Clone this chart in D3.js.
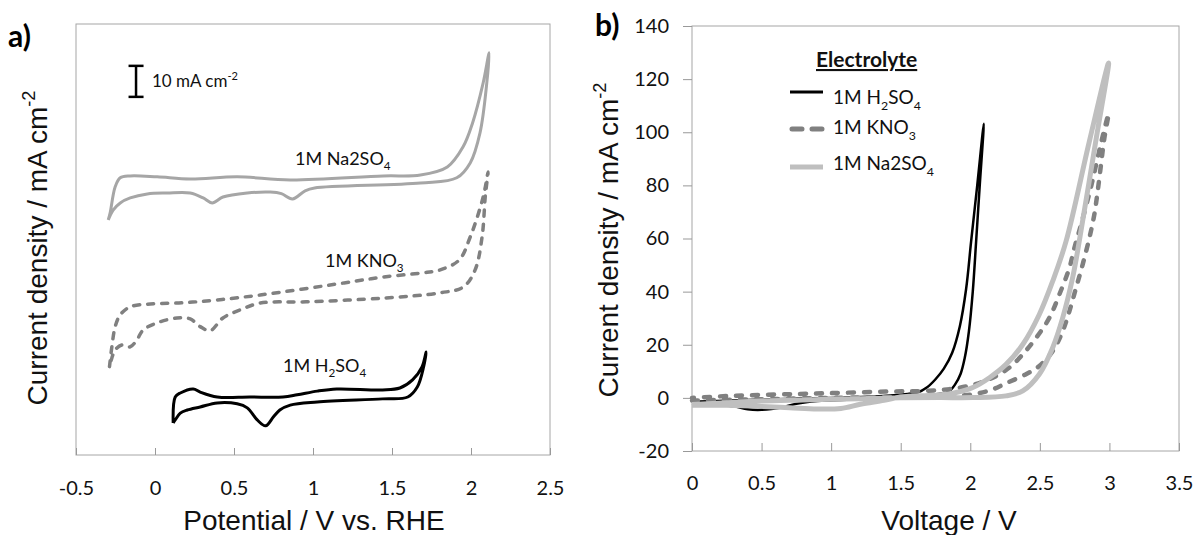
<!DOCTYPE html>
<html>
<head>
<meta charset="utf-8">
<script src="https://cdn.jsdelivr.net/npm/d3@7"></script>
<style>
  body { margin: 0; background: #fff; }
  svg { display: block; }
</style>
</head>
<body>
<svg id="fig" width="1197" height="535"></svg>
<script>
// ---- panel a: stacked CVs (current offset per curve, mA cm-2 on an arbitrary zero)
const aTicks = [-0.5, 0, 0.5, 1, 1.5, 2, 2.5];
const aTickLabels = ["-0.5", "0", "0.5", "1", "1.5", "2", "2.5"];

const aNaV = [-0.296,-0.284,-0.252,-0.22,-0.157,0.014,0.223,0.52,0.856,1.444,1.68,1.85,1.95,2.01,2.077,2.115,
              2.10,2.057,1.995,1.91,1.68,1.01,0.95,0.87,0.8,0.73,0.584,0.43,0.362,0.305,0.223,0.077,-0.049,-0.157,-0.22,-0.265,-0.296];
const aNaJ = [75.8,78.1,86.5,89.4,90.0,89.7,89.0,89.7,88.7,90.0,90.3,92.9,99.4,107.1,120.0,129.7,
              120.0,103.9,94.2,89.4,87.7,86.1,85.2,82.6,84.3,84.8,84.5,83.2,81.3,82.9,84.5,84.5,84.2,82.9,81.3,79.0,75.8];

const aKV = [-0.288,-0.273,-0.252,-0.22,-0.157,-0.03,0.178,0.392,0.666,1.197,1.444,1.685,1.805,1.925,1.995,2.077,2.108,
             2.10,2.09,2.07,2.026,1.952,1.805,1.444,0.957,0.666,0.539,0.43,0.349,0.286,0.223,0.139,0.012,-0.075,-0.115,-0.157,-0.21,-0.252,-0.273,-0.288];
const aKJ = [28.5,34.9,41.4,45.2,47.8,48.7,49.1,50.0,51.6,55.5,57.4,58.7,59.7,62.9,70.3,83.2,91.3,
             87.7,83.2,70.3,59.7,54.2,52.3,50.6,49.4,49.0,46.8,44.2,40.1,41.4,43.9,44.2,42.6,40.3,37.1,34.9,35.5,33.9,31.3,28.5];

const aHV = [0.115,0.128,0.16,0.242,0.286,0.394,0.60,0.81,0.90,1.027,1.15,1.44,1.55,1.63,1.69,1.716,
             1.70,1.66,1.60,1.44,1.027,0.856,0.79,0.75,0.70,0.647,0.584,0.52,0.394,0.286,0.204,0.16,0.128,0.115];
const aHJ = [10.3,18.7,20.0,21.3,20.3,18.7,18.7,18.7,19.4,20.6,21.3,21.0,21.6,24.2,28.4,33.2,
             28.4,21.9,18.7,18.1,17.1,16.1,14.5,12.3,9.4,11.3,15.2,16.5,16.8,15.5,14.5,13.5,11.3,10.3];

const scaleBarV = -0.12;
const scaleBarJ = [115.5, 125.5];

// ---- panel b: polarisation curves
const bXTicks = [0, 0.5, 1, 1.5, 2, 2.5, 3, 3.5];
const bXTickLabels = ["0", "0.5", "1", "1.5", "2", "2.5", "3", "3.5"];
const bYTicks = [-20, 0, 20, 40, 60, 80, 100, 120, 140];

const bHV = [0,0.3,0.6,1.0,1.4,1.55,1.62,1.69,1.75,1.81,1.87,1.925,1.97,2.006,2.05,2.097,
             2.068,2.042,2.018,1.99,1.96,1.93,1.89,1.85,1.8,1.5,1.2,0.9,0.75,0.65,0.5,0.4,0.3,0.15,0];
const bHJ = [-1.5,-1.0,-0.5,0,0.8,1.5,2.0,4,7,11,17,27,41,58.9,80,103.2,
             80,58.9,40.1,25,15,9,5,2.6,1.7,0.5,-0.5,-1.2,-2.2,-3.5,-4.5,-4.3,-3.2,-2.5,-2.0];

const bKV = [0,0.5,1.0,1.5,1.8,2.0,2.15,2.257,2.40,2.496,2.592,2.664,2.712,2.76,2.807,2.855,2.891,2.915,2.939,2.963,2.994,
             2.94,2.87,2.8,2.748,2.712,2.64,2.568,2.473,2.377,2.281,2.162,2.018,1.851,1.66,1.42,1.0,0.7,0.3,0];
const bKJ = [-1.0,-0.5,0,0.4,0.7,1.2,3.0,5.5,8.9,12.0,17.6,25.1,32.6,41.4,50.1,60.0,68.9,77.6,87.6,97.6,107,
             96,80,66,56.4,48.9,38.9,30.1,22.6,16.4,11.4,7.6,4.9,3.3,2.6,2.4,1.8,1.4,0.8,0];

const bNaV = [0,0.25,0.5,0.8,1.2,1.5,1.779,2.018,2.257,2.377,2.496,2.592,2.664,2.735,2.783,2.901,2.994,
              2.855,2.688,2.592,2.496,2.377,2.257,2.138,2.018,1.899,1.779,1.5,1.38,1.21,1.07,0.9,0.7,0.5,0.25,0];
const bNaJ = [-2.5,-1.8,-1.2,-0.8,-0.3,0,0.1,0.1,0.75,2.6,8.9,18.9,30.1,45.1,58.9,96.4,126.1,
              96.4,58.9,43.9,31.4,20.1,12.6,7.6,3.9,2.0,1.1,0.3,-0.9,-2.4,-4.0,-4.2,-3.7,-3.2,-2.8,-2.8];

// ------------------------------------------------------------
const svg = d3.select("#fig");
svg.append("rect").attr("width", 1197).attr("height", 535).attr("fill", "#fff");

const titleFont = "'Liberation Sans', Arial, sans-serif";
const tickFont = "Lato, 'Open Sans', sans-serif";
const boxColor = "#a6a6a6";

const zip = (xs, ys) => xs.map((x, i) => [x, ys[i]]);

// text with sub / superscript pieces: parts = [[text, kind], ...]
function rich(g, x, y, size, family, parts) {
    const t = g.append("text").attr("x", x).attr("y", y)
        .style("font-size", size + "px").style("font-family", family).attr("fill", "#111");
    let shift = 0;
    parts.forEach(([s, k]) => {
        const target = k === "sub" ? size * 0.3 : k === "sup" ? -size * 0.42 : 0;
        t.append("tspan").attr("dy", target - shift)
            .style("font-size", (k ? size * 0.65 : size) + "px").text(s);
        shift = target;
    });
    return t;
}

// ================= panel a =================
const xA = d3.scaleLinear().domain([-0.5, 2.5]).range([76, 550]);
const yA = d3.scaleLinear().domain([0, 139]).range([455, 24]);
const ga = svg.append("g");

ga.append("rect").attr("x", 76).attr("y", 24).attr("width", 474).attr("height", 431)
  .attr("fill", "none").attr("stroke", boxColor).attr("stroke-width", 1);

const axA = ga.append("g").attr("transform", "translate(0,455)")
  .call(d3.axisBottom(xA).tickValues(aTicks).tickFormat((d, i) => aTickLabels[i]).tickSize(-7).tickPadding(26));
axA.select(".domain").remove();
axA.selectAll("line").attr("stroke", "#999");
axA.selectAll("text").style("font-family", tickFont).style("font-size", "20px").attr("fill", "#111");

const lineA = d3.line().x(d => xA(d[0])).y(d => yA(d[1])).curve(d3.curveCatmullRom.alpha(0.5));

ga.append("path").attr("d", lineA(zip(aNaV, aNaJ)))
  .attr("fill", "none").attr("stroke", "#a6a6a6").attr("stroke-width", 3).attr("stroke-linejoin", "round");
ga.append("path").attr("d", lineA(zip(aKV, aKJ)))
  .attr("fill", "none").attr("stroke", "#808080").attr("stroke-width", 3.5)
  .attr("stroke-dasharray", "6,8").attr("stroke-linecap", "round");
ga.append("path").attr("d", lineA(zip(aHV, aHJ)))
  .attr("fill", "none").attr("stroke", "#000").attr("stroke-width", 3).attr("stroke-linejoin", "round");

// scale bar
const sb = ga.append("g").attr("stroke", "#000").attr("stroke-width", 2.5);
sb.append("line").attr("x1", xA(scaleBarV)).attr("x2", xA(scaleBarV)).attr("y1", yA(scaleBarJ[0])).attr("y2", yA(scaleBarJ[1]));
[0, 1].forEach(i => sb.append("line").attr("x1", xA(scaleBarV) - 7.5).attr("x2", xA(scaleBarV) + 7.5)
  .attr("y1", yA(scaleBarJ[i])).attr("y2", yA(scaleBarJ[i])));
rich(ga, 152, 87, 17, tickFont, [["10 mA cm"], ["-2", "sup"]]);

rich(ga, 295, 165, 18, tickFont, [["1M Na2SO"], ["4", "sub"]]);
rich(ga, 325, 267, 18, tickFont, [["1M KNO"], ["3", "sub"]]);
rich(ga, 283, 372, 18, tickFont, [["1M H"], ["2", "sub"], ["SO"], ["4", "sub"]]);

rich(ga, 314, 530, 28, titleFont, [["Potential / V vs. RHE"]]).attr("text-anchor", "middle");
rich(ga, 0, 0, 28, titleFont, [["Current density / mA cm"], ["-2", "sup"]])
  .attr("text-anchor", "middle").attr("transform", "translate(47,248) rotate(-90)");

ga.append("text").attr("x", 8).attr("y", 47).text("a)")
  .style("font-family", tickFont).style("font-weight", "bold").style("font-size", "30px");

// ================= panel b =================
const xB = d3.scaleLinear().domain([0, 3.5]).range([692, 1179]);
const yB = d3.scaleLinear().domain([-20, 140]).range([451, 26]);
const gb = svg.append("g");

gb.append("rect").attr("x", 692).attr("y", 26).attr("width", 487).attr("height", 425)
  .attr("fill", "none").attr("stroke", boxColor).attr("stroke-width", 1);

const axBx = gb.append("g").attr("transform", "translate(0,451)")
  .call(d3.axisBottom(xB).tickValues(bXTicks).tickFormat((d, i) => bXTickLabels[i]).tickSize(-8).tickPadding(25));
const axBy = gb.append("g").attr("transform", "translate(692,0)")
  .call(d3.axisLeft(yB).tickValues(bYTicks).tickFormat(d => String(d).replace("\u2212", "-")).tickSize(9).tickPadding(14));
[axBx, axBy].forEach(ax => {
    ax.select(".domain").remove();
    ax.selectAll("line").attr("stroke", "#999");
    ax.selectAll("text").style("font-family", tickFont).style("font-size", "20px").attr("fill", "#111");
});

const lineB = d3.line().x(d => xB(d[0])).y(d => yB(d[1])).curve(d3.curveCatmullRom.alpha(0.5));

gb.append("path").attr("d", lineB(zip(bHV, bHJ)))
  .attr("fill", "none").attr("stroke", "#000").attr("stroke-width", 2.5).attr("stroke-linejoin", "round");
gb.append("path").attr("d", lineB(zip(bKV, bKJ)))
  .attr("fill", "none").attr("stroke", "#808080").attr("stroke-width", 4.5)
  .attr("stroke-dasharray", "6,10").attr("stroke-linecap", "round");
gb.append("path").attr("d", lineB(zip(bNaV, bNaJ)))
  .attr("fill", "none").attr("stroke", "#bfbfbf").attr("stroke-width", 5).attr("stroke-linejoin", "round");

// legend
const lg = gb.append("g");
lg.append("text").attr("x", 816).attr("y", 67).text("Electrolyte")
  .style("font-family", tickFont).style("font-weight", "bold").style("font-size", "21px")
  .style("text-decoration", "underline").attr("fill", "#111");
const legY = [92, 129, 167];
const legText = [104, 134, 170];
const legStyles = [
    { stroke: "#000", w: 3, dash: null, cap: "butt" },
    { stroke: "#808080", w: 5, dash: "10,10", cap: "round" },
    { stroke: "#bfbfbf", w: 5, dash: null, cap: "butt" }
];
legStyles.forEach((s, i) => {
    const l = lg.append("line").attr("x1", s.cap === "round" ? 792 : 790).attr("x2", 823)
      .attr("y1", legY[i]).attr("y2", legY[i])
      .attr("stroke", s.stroke).attr("stroke-width", s.w).attr("stroke-linecap", s.cap);
    if (s.dash) l.attr("stroke-dasharray", s.dash);
});
rich(lg, 833, legText[0], 19, tickFont, [["1M H"], ["2", "sub"], ["SO"], ["4", "sub"]]);
rich(lg, 833, legText[1], 19, tickFont, [["1M KNO"], ["3", "sub"]]);
rich(lg, 833, legText[2], 19, tickFont, [["1M Na2SO"], ["4", "sub"]]);

rich(gb, 949, 530, 28, titleFont, [["Voltage / V"]]).attr("text-anchor", "middle");
rich(gb, 0, 0, 28, titleFont, [["Current density / mA cm"], ["-2", "sup"]])
  .attr("text-anchor", "middle").attr("transform", "translate(618,240) rotate(-90)");

gb.append("text").attr("x", 595).attr("y", 36).text("b)")
  .style("font-family", tickFont).style("font-weight", "bold").style("font-size", "30px");
</script>
</body>
</html>
